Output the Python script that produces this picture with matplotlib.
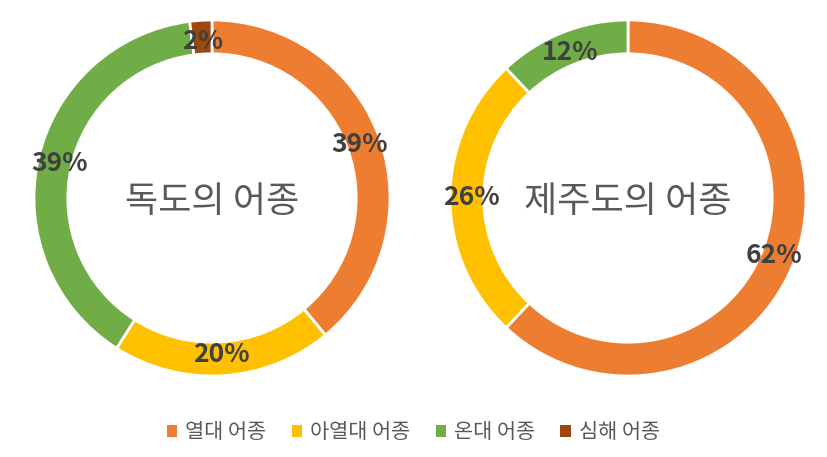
import numpy as np
import matplotlib.pyplot as plt
from matplotlib.patches import Patch

plt.rcParams['font.family'] = ['Noto Sans CJK KR', 'DejaVu Sans']

categories = ['열대 어종', '아열대 어종', '온대 어종', '심해 어종']
colors = ['#ED7D31', '#FFC000', '#70AD47', '#9E480E']

dokdo_values = [39, 20, 39, 2]
jeju_values = [62, 26, 12, 0]
titles = ['독도의 어종', '제주도의 어종']

fig = plt.figure(figsize=(8.27, 4.57), dpi=100)

ax_w = 356 / 827
ax_h = 356 / 457
boxes = [((212 - 178) / 827, (259 - 178) / 457),
         ((628 - 178) / 827, (259 - 178) / 457)]

for (x0, y0), vals, title in zip(boxes, [dokdo_values, jeju_values], titles):
    ax = fig.add_axes([x0, y0, ax_w, ax_h])
    shown = [(v, c) for v, c in zip(vals, colors) if v > 0]
    v_list = [s[0] for s in shown]
    c_list = [s[1] for s in shown]
    wedges, texts = ax.pie(
        v_list, colors=c_list, startangle=90, counterclock=False,
        radius=1.0, wedgeprops=dict(width=0.19, edgecolor='white', linewidth=2),
    )
    total = sum(v_list)
    for w, v in zip(wedges, v_list):
        ang = np.deg2rad((w.theta1 + w.theta2) / 2)
        r = 0.88
        ax.text(r * np.cos(ang), r * np.sin(ang), f'{round(v / total * 100)}%',
                ha='center', va='center', fontsize=19, fontweight='bold',
                color='#404040')
    ax.text(0, -0.02, title, ha='center', va='center', fontsize=26, color='#595959')
    ax.set_xlim(-1, 1)
    ax.set_ylim(-1, 1)
    ax.set_aspect('equal')
    ax.axis('off')

handles = [Patch(facecolor=c, edgecolor='none') for c in colors]
fig.legend(handles, categories, loc='center', bbox_to_anchor=(0.5, (457 - 432) / 457),
           ncol=4, frameon=False, fontsize=15, labelcolor='#595959',
           handlelength=0.5, handleheight=0.5, handletextpad=0.4, columnspacing=1.2)

fig.savefig('out.png', dpi=100)
